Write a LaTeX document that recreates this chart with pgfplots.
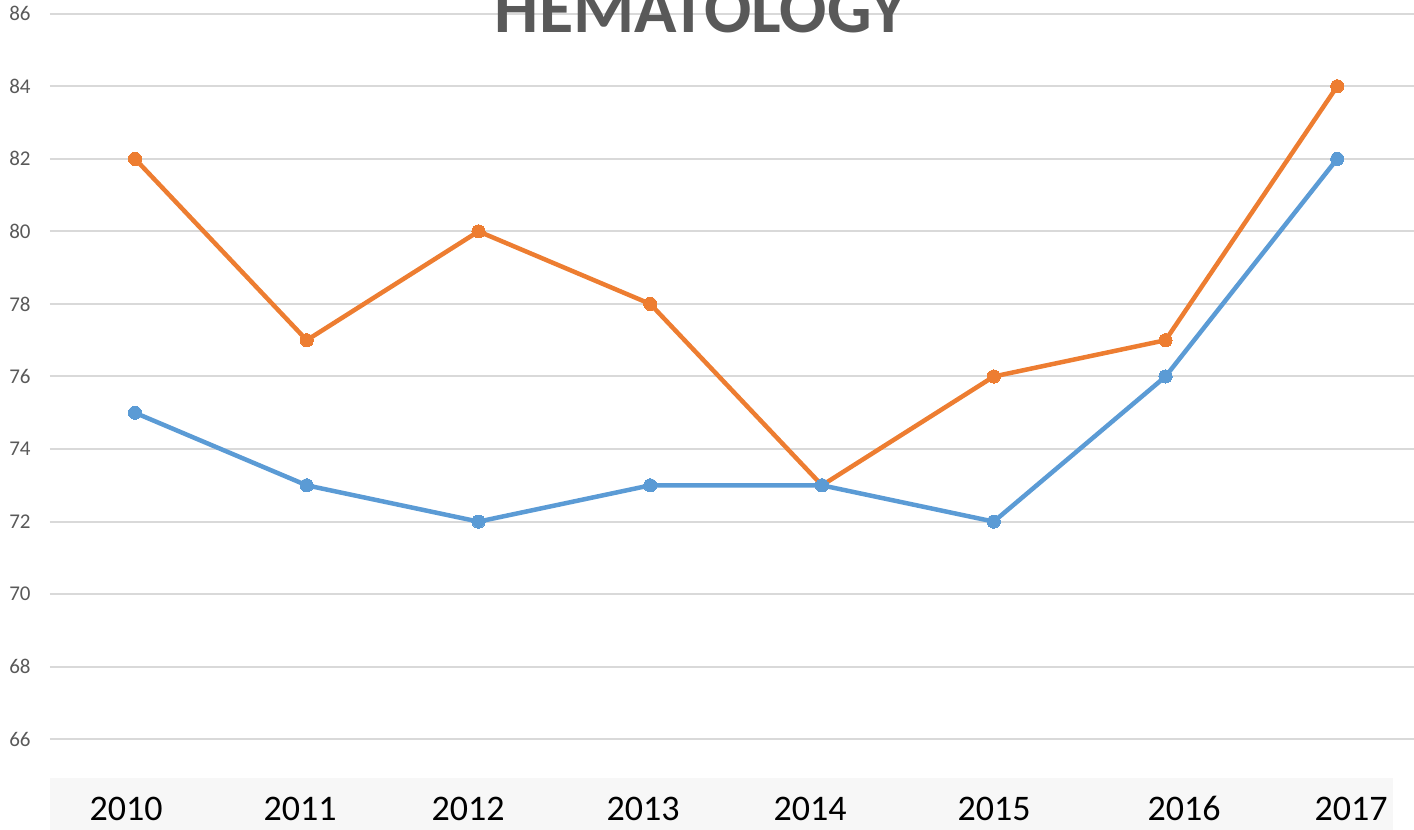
\documentclass[border=0pt]{standalone}
\usepackage{pgfplots}
\pgfplotsset{compat=1.18}
\usepackage{fontspec}
\setmainfont{Carlito}
\definecolor{cblue}{HTML}{5B9BD5}
\definecolor{corange}{HTML}{ED7D31}
\definecolor{tgray}{HTML}{595959}
\definecolor{ggray}{HTML}{D9D9D9}
\definecolor{band}{HTML}{F7F7F7}
\begin{document}
\begin{tikzpicture}
\useasboundingbox (-25pt,-26pt) rectangle (682pt,389pt);
\clip (-25pt,-26pt) rectangle (682pt,389pt);
\fill[band] (0pt,-26pt) rectangle (671.5pt,0pt);
\begin{axis}[
  at={(0pt,0pt)}, anchor=south west,
  scale only axis, width=682pt, height=389pt,
  xmin=-0.4949, xmax=7.4469,
  ymin=64.933, ymax=86.378,
  axis line style={draw=none},
  major tick length=0pt,
  ytick={66,68,...,86},
  ymajorgrids, grid style={ggray, line width=1pt},
  yticklabel style={font=\fontsize{10.5pt}{12pt}\selectfont, color=tgray, anchor=east, inner sep=0pt, xshift=-9.5pt},
  /pgf/number format/assume math mode=true,
  xtick={-0.0524,0.9607,1.9389,2.9578,3.9301,5.0015,6.1077,7.0801},
  xticklabels={2010,2011,2012,2013,2014,2015,2016,2017},
  xticklabel style={font=\fontsize{18pt}{20pt}\selectfont, color=black, anchor=center, inner sep=0pt, yshift=-15.25pt},
  clip=false,
]
\addplot[corange, line width=2.25pt, mark=*, mark size=3.3pt, mark options={fill=corange, draw=corange, line width=0pt}]
  coordinates {(0,82) (1,77) (2,80) (3,78) (4,73) (5,76) (6,77) (7,84)};
\addplot[cblue, line width=2.25pt, mark=*, mark size=3.3pt, mark options={fill=cblue, draw=cblue, line width=0pt}]
  coordinates {(0,75) (1,73) (2,72) (3,73) (4,73) (5,72) (6,76) (7,82)};
\end{axis}
\node[anchor=base, inner sep=0pt, text=tgray, font=\fontsize{35pt}{40pt}\selectfont\bfseries] at (325.5pt,372.5pt) {HEMATOLOGY};
\end{tikzpicture}
\end{document}
